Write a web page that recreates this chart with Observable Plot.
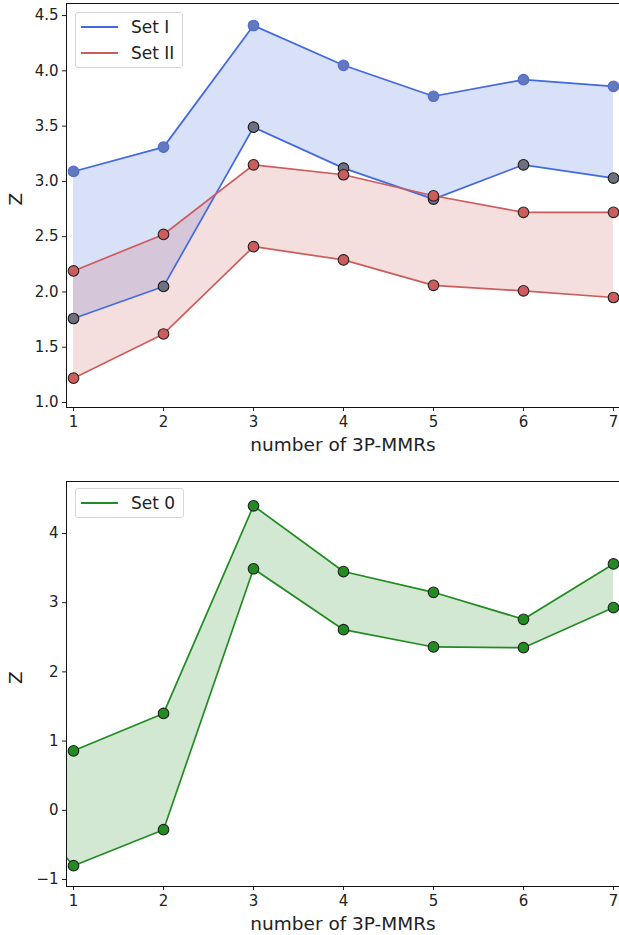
<!DOCTYPE html>
<html>
<head>
<meta charset="utf-8">
<script src="https://cdn.jsdelivr.net/npm/d3@7"></script>
<script src="https://cdn.jsdelivr.net/npm/@observablehq/plot@0.6"></script>
<style>
  body { margin: 0; background: #fff; font-family: "DejaVu Sans", sans-serif; }
  .panel { position: relative; width: 619px; }
  .legend { position: absolute; background: rgba(255,255,255,0.85); border: 1px solid #d6d6d6; border-radius: 3px; font-size: 17px; color: #222; }
  .legend .item { display: flex; align-items: center; height: 26px; padding-left: 5px; padding-right: 8px; }
  .legend .swatch { display: inline-block; width: 37px; height: 2px; margin-right: 13px; }
</style>
</head>
<body>
<div id="top" class="panel"></div>
<div id="bottom" class="panel"></div>
<script>
// number of three-planet mean-motion resonances
const mmr = [1, 2, 3, 4, 5, 6, 7];

// Set I: upper and lower bounds of Z
const setIUpper = [3.09, 3.31, 4.41, 4.05, 3.77, 3.92, 3.86];
const setILower = [1.76, 2.05, 3.49, 3.12, 2.84, 3.15, 3.03];

// Set II: upper and lower bounds of Z
const setIIUpper = [2.19, 2.52, 3.15, 3.06, 2.87, 2.72, 2.72];
const setIILower = [1.22, 1.62, 2.41, 2.29, 2.06, 2.01, 1.95];

// Set 0: bounds of Z (the band starts at zero resonances)
const mmr0 = [0, 1, 2, 3, 4, 5, 6, 7];
const set0Upper = [0.86, 0.86, 1.40, 4.40, 3.45, 3.15, 2.76, 3.56];
const set0Lower = [0.65, -0.80, -0.28, 3.49, 2.61, 2.36, 2.35, 2.93];

const topTicks = [1.0, 1.5, 2.0, 2.5, 3.0, 3.5, 4.0, 4.5];
const bottomTicks = [-1, 0, 1, 2, 3, 4];

const BLUE = "#4169e1", RED = "#cd5c5c", GREEN = "#228b22";

const rows = (xs, up, lo) => xs.map((x, i) => ({x, up: up[i], lo: lo[i]}));
const setI = rows(mmr, setIUpper, setILower);
const setII = rows(mmr, setIIUpper, setIILower);
const set0 = rows(mmr0, set0Upper, set0Lower);
const set0Visible = set0.filter(d => d.x >= 1);

const xDomain = [0.922, 7.067];
const font = {fontSize: "15px", fontFamily: "DejaVu Sans, sans-serif", color: "#222", background: "#fff", overflow: "visible"};

function axes(yTicks, yFormat) {
  return [
    Plot.axisX({ticks: mmr, tickFormat: d3.format("d"), tickSize: 4, tickPadding: 5, label: null, fontSize: 15}),
    Plot.axisY({ticks: yTicks, tickFormat: yFormat, tickSize: 4, tickPadding: 4, label: null, fontSize: 15}),
    Plot.text([0], {frameAnchor: "bottom", lineAnchor: "middle", dy: 38, text: () => "number of 3P-MMRs", fontSize: 18.5, fill: "#222"}),
    Plot.text([0], {frameAnchor: "left", lineAnchor: "middle", dx: -50, rotate: -90, text: () => "Z", fontSize: 18.5, fill: "#222"}),
    Plot.frame({stroke: "#111", strokeWidth: 1})
  ];
}

function band(data, color, upFill, upStroke, loFill, loStroke) {
  return [
    Plot.lineY(data, {x: "x", y: "up", stroke: color, strokeWidth: 1.7, clip: true}),
    Plot.lineY(data, {x: "x", y: "lo", stroke: color, strokeWidth: 1.7, clip: true}),
    Plot.dot(data, {x: "x", y: "up", r: 5.3, fill: upFill, stroke: upStroke, strokeWidth: 1.1}),
    Plot.dot(data, {x: "x", y: "lo", r: 5.3, fill: loFill, stroke: loStroke, strokeWidth: 1.1})
  ];
}

const topChart = Plot.plot({
  width: 619, height: 465,
  marginLeft: 66, marginRight: 0, marginTop: 3, marginBottom: 58,
  style: font,
  x: {domain: xDomain},
  y: {domain: [0.955, 4.609]},
  marks: [
    Plot.areaY(setI, {x: "x", y1: "lo", y2: "up", fill: BLUE, fillOpacity: 0.2}),
    Plot.areaY(setII, {x: "x", y1: "lo", y2: "up", fill: RED, fillOpacity: 0.2}),
    ...band(setI, BLUE, "#6478bd", "#4a6ad6", "#6e7080", "#1a1a1a"),
    ...band(setII, RED, RED, "#222", RED, "#222"),
    ...axes(topTicks, d3.format(".1f"))
  ]
});

const bottomChart = Plot.plot({
  width: 619, height: 470,
  marginLeft: 66, marginRight: 0, marginTop: 16, marginBottom: 49,
  style: font,
  x: {domain: xDomain},
  y: {domain: [-1.101, 4.751]},
  marks: [
    Plot.areaY(set0, {x: "x", y1: "lo", y2: "up", fill: GREEN, fillOpacity: 0.2, clip: true}),
    Plot.lineY(set0Visible, {x: "x", y: "up", stroke: GREEN, strokeWidth: 1.7}),
    Plot.lineY(set0, {x: "x", y: "lo", stroke: GREEN, strokeWidth: 1.7, clip: true}),
    Plot.dot(set0Visible, {x: "x", y: "up", r: 5.3, fill: GREEN, stroke: "#222", strokeWidth: 1.1}),
    Plot.dot(set0Visible, {x: "x", y: "lo", r: 5.3, fill: GREEN, stroke: "#222", strokeWidth: 1.1}),
    ...axes(bottomTicks, d3.format("d"))
  ]
});

function legend(entries, left, top) {
  const box = document.createElement("div");
  box.className = "legend";
  box.style.left = left + "px";
  box.style.top = top + "px";
  box.style.paddingTop = "1px";
  box.style.paddingBottom = "1px";
  for (const [label, color] of entries) {
    const item = document.createElement("div");
    item.className = "item";
    const sw = document.createElement("span");
    sw.className = "swatch";
    sw.style.backgroundColor = color;
    item.appendChild(sw);
    item.appendChild(document.createTextNode(label));
    box.appendChild(item);
  }
  return box;
}

const topEl = document.getElementById("top");
topEl.appendChild(topChart);
topEl.appendChild(legend([["Set I", BLUE], ["Set II", RED]], 75, 12));

const bottomEl = document.getElementById("bottom");
bottomEl.appendChild(bottomChart);
bottomEl.appendChild(legend([["Set 0", GREEN]], 75, 23));
</script>
</body>
</html>
